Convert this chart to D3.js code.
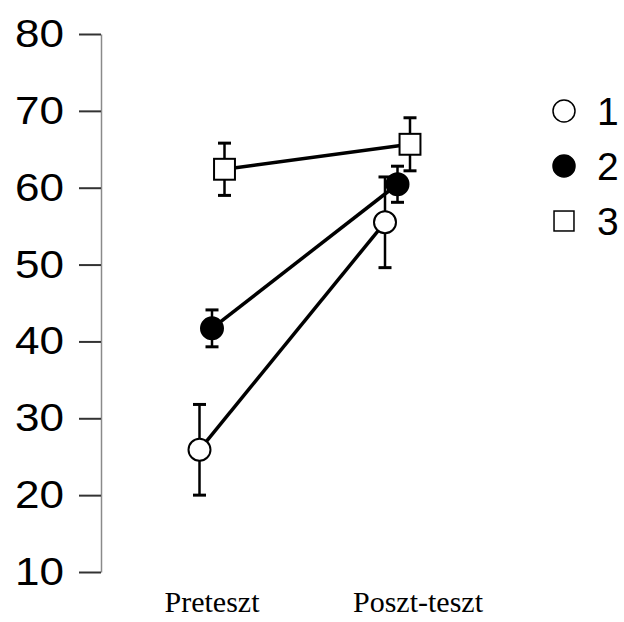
<!DOCTYPE html>
<html>
<head>
<meta charset="utf-8">
<script src="https://cdn.jsdelivr.net/npm/d3@7"></script>
<style>
  html, body { margin: 0; padding: 0; background: #fff; }
  svg { display: block; }
</style>
</head>
<body>
<div id="chart"></div>
<script>
// values
const phases = ["Preteszt", "Poszt-teszt"];
const groups = ["1", "2", "3"];
const means1 = [25.9, 55.5];
const errs1 = [5.9, 5.9];
const means2 = [41.7, 60.45];
const errs2 = [2.4, 2.35];
const means3 = [62.4, 65.65];
const errs3 = [3.4, 3.45];
const yTicks = [10, 20, 30, 40, 50, 60, 70, 80];

const width = 624, height = 622;

const series = [
    { id: groups[0], means: means1, errs: errs1, shape: "circle", fill: "#fff" },
    { id: groups[1], means: means2, errs: errs2, shape: "circle", fill: "#000" },
    { id: groups[2], means: means3, errs: errs3, shape: "square", fill: "#fff" }
];

const svg = d3.select("#chart").append("svg")
    .attr("width", width)
    .attr("height", height);

const y = d3.scaleLinear().domain([10, 80]).range([572, 34]);
const x = d3.scalePoint().domain(phases).range([212, 397.5]);
const xOff = d3.scalePoint().domain(groups).range([-12.5, 12.5]);
const xLabel = d3.scalePoint().domain(phases).range([212, 418]);

// y axis
const yAxis = svg.append("g")
    .attr("transform", "translate(101,0)")
    .call(d3.axisLeft(y).tickValues(yTicks).tickSize(22).tickSizeOuter(0).tickPadding(15));
yAxis.select(".domain").attr("stroke", "#8a8a8a").attr("stroke-width", 1.5);
yAxis.selectAll(".tick line").attr("stroke", "#333").attr("stroke-width", 2);
yAxis.selectAll(".tick text")
    .attr("fill", "#000")
    .attr("textLength", 49)
    .attr("lengthAdjust", "spacingAndGlyphs")
    .style("font-family", "'Liberation Sans', Arial, sans-serif")
    .style("font-size", "39px");

// x labels
svg.append("g")
    .selectAll("text")
    .data(phases)
    .join("text")
    .attr("x", d => xLabel(d))
    .attr("y", 612)
    .attr("text-anchor", "middle")
    .style("font-family", "'Liberation Serif', 'Times New Roman', serif")
    .style("font-size", "30px")
    .text(d => d);

const px = (s, i) => x(phases[i]) + xOff(s.id);

// connecting lines
const line = d3.line().x(d => d[0]).y(d => d[1]);
svg.append("g")
    .selectAll("path")
    .data(series)
    .join("path")
    .attr("fill", "none")
    .attr("stroke", "#000")
    .attr("stroke-width", 3.5)
    .attr("d", s => line(s.means.map((m, i) => [px(s, i), y(m)])));

// error bars
const bars = series.flatMap(s => s.means.map((m, i) => ({ s, i, m, e: s.errs[i] })));
const eb = svg.append("g")
    .attr("stroke", "#000")
    .selectAll("g")
    .data(bars)
    .join("g");
eb.append("line")
    .attr("stroke-width", 2.5)
    .attr("x1", d => px(d.s, d.i)).attr("x2", d => px(d.s, d.i))
    .attr("y1", d => y(d.m - d.e)).attr("y2", d => y(d.m + d.e));
eb.append("line")
    .attr("stroke-width", 3)
    .attr("x1", d => px(d.s, d.i) - 6.5).attr("x2", d => px(d.s, d.i) + 6.5)
    .attr("y1", d => y(d.m + d.e)).attr("y2", d => y(d.m + d.e));
eb.append("line")
    .attr("stroke-width", 3)
    .attr("x1", d => px(d.s, d.i) - 6.5).attr("x2", d => px(d.s, d.i) + 6.5)
    .attr("y1", d => y(d.m - d.e)).attr("y2", d => y(d.m - d.e));

// markers
function drawMarker(g, shape, fill, cx, cy, r, sw) {
    if (shape === "circle") {
        g.append("circle")
            .attr("cx", cx).attr("cy", cy).attr("r", r)
            .attr("fill", fill).attr("stroke", "#000").attr("stroke-width", sw);
    } else {
        g.append("rect")
            .attr("x", cx - r * 0.95).attr("y", cy - r * 0.95)
            .attr("width", r * 1.9).attr("height", r * 1.9)
            .attr("fill", fill).attr("stroke", "#000").attr("stroke-width", sw);
    }
}
const markers = svg.append("g");
bars.forEach(d => drawMarker(markers, d.s.shape, d.s.fill, px(d.s, d.i), y(d.m), 11, 2));

// legend
const legendY = d3.scalePoint().domain(groups).range([111, 221]);
const legend = svg.append("g");
series.forEach(s => {
    drawMarker(legend, s.shape, s.fill, 564, legendY(s.id), s.shape === "circle" ? 11 : 10.5, 1.5);
    legend.append("text")
        .attr("x", 597)
        .attr("y", legendY(s.id))
        .attr("dy", "0.36em")
        .style("font-family", "'Liberation Sans', Arial, sans-serif")
        .style("font-size", "39px")
        .text(s.id);
});
</script>
</body>
</html>
